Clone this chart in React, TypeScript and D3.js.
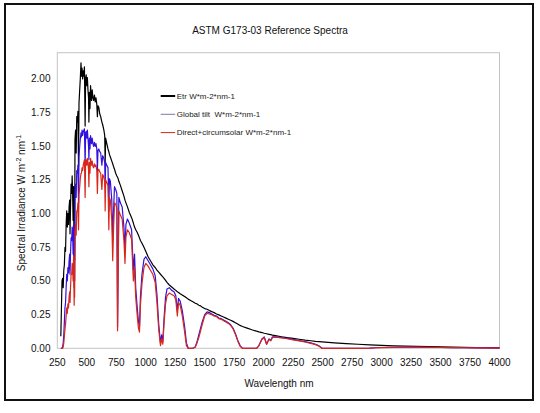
import React from "react";
import { scaleLinear, line } from "d3";

// wavelength grid (nm), shared by the three series
const wavelengths = [
  280, 285, 290, 295, 300, 305, 310, 315, 320, 325, 330, 335, 340, 345, 350, 355, 358, 362, 367, 372,
  376, 380, 384, 388, 393, 396, 397, 400, 405, 410, 415, 420, 425, 430, 434, 440, 445, 451, 455, 460,
  465, 470, 475, 480, 486, 490, 495, 500, 505, 510, 515, 518, 522, 527, 532, 540, 546, 552, 558, 565,
  572, 578, 585, 590, 595, 602, 610, 618, 628, 635, 645, 652, 656, 660, 670, 680, 687, 692, 700, 712,
  720, 727, 735, 745, 755, 761, 766, 772, 785, 800, 815, 824, 832, 845, 860, 880, 895, 905, 915, 928,
  938, 947, 955, 968, 985, 1000, 1020, 1040, 1060, 1080, 1095, 1110, 1125, 1135, 1145, 1155, 1168, 1180, 1200, 1220,
  1240, 1255, 1268, 1278, 1292, 1310, 1330, 1345, 1360, 1380, 1400, 1420, 1435, 1450, 1465, 1480, 1500, 1520, 1540, 1560,
  1580, 1600, 1620, 1640, 1660, 1680, 1700, 1720, 1740, 1760, 1780, 1800, 1820, 1860, 1900, 1940, 1960, 1985, 2005, 2025,
  2045, 2060, 2075, 2100, 2150, 2200, 2250, 2300, 2350, 2400, 2440, 2470, 2495, 2600, 2700, 2800, 2900, 2950, 3000, 3100,
  3200, 3300, 3400, 3500, 3600, 3700, 3800, 3900, 4000,
];

const etr = [
  0.09, 0.3, 0.5, 0.52, 0.45, 0.58, 0.62, 0.75, 0.72, 0.92, 1.02, 0.9, 1.0, 0.92, 1.05, 1.1, 0.85, 1.05, 1.22, 1.15,
  1.28, 1.15, 0.95, 1.2, 0.55, 1.0, 0.65, 1.55, 1.62, 1.45, 1.72, 1.68, 1.76, 1.35, 1.82, 1.92, 2.0, 2.12, 2.02, 2.08,
  2.0, 2.06, 2.02, 2.09, 1.65, 2.0, 2.03, 1.95, 2.01, 1.92, 1.86, 1.68, 1.9, 1.78, 1.95, 1.84, 1.92, 1.86, 1.84, 1.88,
  1.83, 1.86, 1.81, 1.72, 1.8, 1.79, 1.74, 1.72, 1.68, 1.66, 1.62, 1.58, 1.38, 1.56, 1.52, 1.48, 1.46, 1.44, 1.42, 1.39,
  1.37, 1.35, 1.33, 1.3, 1.28, 1.27, 1.26, 1.24, 1.21, 1.17, 1.13, 1.1, 1.08, 1.05, 1.01, 0.97, 0.93, 0.9, 0.88, 0.86,
  0.84, 0.82, 0.8, 0.78, 0.75, 0.72, 0.68, 0.65, 0.62, 0.6, 0.58, 0.565, 0.55, 0.54, 0.53, 0.52, 0.505, 0.49, 0.47, 0.455,
  0.44, 0.43, 0.42, 0.415, 0.405, 0.395, 0.385, 0.375, 0.365, 0.355, 0.345, 0.335, 0.33, 0.32, 0.315, 0.305, 0.295, 0.29, 0.28, 0.272,
  0.265, 0.255, 0.248, 0.24, 0.232, 0.224, 0.216, 0.208, 0.2, 0.19, 0.18, 0.17, 0.162, 0.15, 0.138, 0.127, 0.122, 0.117, 0.112, 0.108,
  0.104, 0.101, 0.098, 0.094, 0.086, 0.079, 0.073, 0.067, 0.061, 0.056, 0.052, 0.05, 0.048, 0.041, 0.035, 0.03, 0.026, 0.024, 0.022, 0.019,
  0.016, 0.014, 0.012, 0.01, 0.008, 0.007, 0.006, 0.005, 0.004,
];

const globalTilt = [
  0, 0, 0, 0.01, 0.04, 0.1, 0.2, 0.3, 0.34, 0.45, 0.55, 0.5, 0.6, 0.56, 0.65, 0.7, 0.55, 0.7, 0.82, 0.8,
  0.9, 0.85, 0.7, 0.92, 0.45, 0.78, 0.5, 1.15, 1.22, 1.12, 1.32, 1.3, 1.36, 1.08, 1.42, 1.5, 1.55, 1.6, 1.57, 1.62,
  1.58, 1.61, 1.62, 1.63, 1.35, 1.6, 1.61, 1.56, 1.62, 1.56, 1.5, 1.4, 1.56, 1.48, 1.58, 1.52, 1.56, 1.52, 1.5, 1.53,
  1.5, 1.52, 1.48, 1.32, 1.47, 1.48, 1.46, 1.45, 1.36, 1.43, 1.41, 1.38, 1.2, 1.38, 1.36, 1.34, 1.02, 1.26, 1.24, 1.1,
  0.8, 1.02, 1.2, 1.18, 1.15, 0.16, 0.65, 1.12, 1.08, 1.05, 0.9, 0.72, 0.92, 0.96, 0.93, 0.88, 0.58, 0.7, 0.45, 0.3,
  0.2, 0.16, 0.38, 0.55, 0.66, 0.68, 0.65, 0.62, 0.59, 0.54, 0.4, 0.18, 0.04, 0.1, 0.05, 0.22, 0.38, 0.44, 0.45, 0.43,
  0.42, 0.39, 0.28, 0.37, 0.35, 0.28, 0.16, 0.04, 0, 0, 0, 0.01, 0.05, 0.1, 0.15, 0.2, 0.25, 0.27, 0.265, 0.255,
  0.245, 0.24, 0.225, 0.22, 0.21, 0.2, 0.19, 0.175, 0.15, 0.11, 0.06, 0.02, 0, 0, 0, 0, 0.02, 0.07, 0.085, 0.03,
  0.07, 0.06, 0.085, 0.085, 0.08, 0.074, 0.066, 0.058, 0.05, 0.04, 0.03, 0.018, 0, 0, 0, 0, 0.001, 0.004, 0.006, 0.008,
  0.009, 0.008, 0.007, 0.006, 0.005, 0.004, 0.003, 0.003, 0.002,
];

const directCircumsolar = [
  0, 0, 0, 0, 0.01, 0.04, 0.09, 0.14, 0.18, 0.24, 0.3, 0.26, 0.33, 0.3, 0.38, 0.42, 0.34, 0.45, 0.55, 0.55,
  0.63, 0.6, 0.5, 0.68, 0.32, 0.58, 0.38, 0.85, 0.92, 0.84, 1.02, 1.02, 1.08, 0.88, 1.14, 1.2, 1.26, 1.3, 1.3, 1.34,
  1.32, 1.36, 1.38, 1.4, 1.12, 1.38, 1.4, 1.36, 1.41, 1.38, 1.32, 1.2, 1.38, 1.3, 1.41, 1.36, 1.39, 1.35, 1.34, 1.37,
  1.35, 1.36, 1.32, 1.15, 1.32, 1.33, 1.31, 1.3, 1.18, 1.29, 1.27, 1.24, 1.02, 1.25, 1.23, 1.21, 0.88, 1.12, 1.1, 0.95,
  0.65, 0.88, 1.08, 1.07, 1.04, 0.13, 0.55, 1.02, 0.99, 0.96, 0.8, 0.63, 0.83, 0.88, 0.86, 0.81, 0.5, 0.6, 0.38, 0.24,
  0.15, 0.12, 0.32, 0.48, 0.6, 0.63, 0.61, 0.58, 0.55, 0.49, 0.34, 0.14, 0.02, 0.07, 0.03, 0.18, 0.33, 0.39, 0.41, 0.4,
  0.39, 0.36, 0.24, 0.34, 0.32, 0.24, 0.12, 0.02, 0, 0, 0, 0.01, 0.04, 0.08, 0.13, 0.18, 0.24, 0.26, 0.255, 0.25,
  0.24, 0.235, 0.22, 0.215, 0.205, 0.195, 0.185, 0.17, 0.145, 0.105, 0.055, 0.015, 0, 0, 0, 0, 0.02, 0.065, 0.08, 0.03,
  0.065, 0.055, 0.08, 0.082, 0.077, 0.071, 0.063, 0.055, 0.047, 0.037, 0.027, 0.015, 0, 0, 0, 0, 0.001, 0.004, 0.005, 0.007,
  0.008, 0.008, 0.007, 0.006, 0.005, 0.004, 0.003, 0.003, 0.002,
];

const xTicks = [250, 500, 750, 1000, 1250, 1500, 1750, 2000, 2250, 2500, 2750, 3000, 3250, 3500, 3750, 4000];
const yTicks = [0, 0.25, 0.5, 0.75, 1.0, 1.25, 1.5, 1.75, 2.0];

const seriesNames = ["Etr W*m-2*nm-1", "Global tilt\u00a0\u00a0W*m-2*nm-1", "Direct+circumsolar W*m-2*nm-1"];

const W = 540;
const H = 413;
const plot = { left: 57.3, right: 499.5, top: 52.7, bottom: 348.3 };
const font = "'Liberation Sans', Arial, sans-serif";

export default function App() {
  const x = scaleLinear().domain([250, 4000]).range([plot.left, plot.right]);
  const y = scaleLinear().domain([0, 2.195]).range([plot.bottom, plot.top]);

  const path = (vals: number[]) =>
    line<number>()
      .x((_, i) => x(wavelengths[i]))
      .y((d) => y(d))(vals) as string;

  const series = [
    { vals: etr, color: "#000000", legendWidth: 2 },
    { vals: globalTilt, color: "#3311dd", legendWidth: 1 },
    { vals: directCircumsolar, color: "#d8261a", legendWidth: 1 },
  ];

  return (
    <svg width={W} height={H} style={{ position: "absolute", left: 0, top: 0, background: "#fff" }}>
      <rect x={0} y={0} width={W} height={H} fill="#fff" />
      <rect x={5} y={4} width={528} height={396} fill="#fff" stroke="#111" strokeWidth={2} />

      <text x={270} y={34} textAnchor="middle" fontFamily={font} fontSize={10} fill="#111">
        ASTM G173-03 Reference Spectra
      </text>

      <rect
        x={plot.left}
        y={plot.top}
        width={plot.right - plot.left}
        height={plot.bottom - plot.top}
        fill="#fff"
        stroke="#c4c4c4"
        strokeWidth={1}
      />

      {series.map((s, i) => (
        <path key={i} d={path(s.vals)} fill="none" stroke={s.color} strokeWidth={1.2} strokeLinejoin="round" />
      ))}

      {yTicks.map((t) => (
        <text key={t} x={50.5} y={y(t) + 3.5} textAnchor="end" fontFamily={font} fontSize={10} fill="#111">
          {t.toFixed(2)}
        </text>
      ))}

      {xTicks.map((t) => (
        <text key={t} x={x(t)} y={366} textAnchor="middle" fontFamily={font} fontSize={10} fill="#111">
          {t}
        </text>
      ))}

      <text x={279} y={386.5} textAnchor="middle" fontFamily={font} fontSize={10} fill="#111">
        Wavelength nm
      </text>

      <text
        transform="translate(25,203) rotate(-90)"
        textAnchor="middle"
        fontFamily={font}
        fontSize={10}
        fill="#111"
      >
        Spectral Irradiance  W m
        <tspan dy={-4} fontSize={7}>-2</tspan>
        <tspan dy={4}> nm</tspan>
        <tspan dy={-4} fontSize={7}>-1</tspan>
      </text>

      {series.map((s, i) => (
        <g key={i} transform={`translate(160.7,${96 + i * 18.3})`}>
          <line x1={0} x2={14.5} y1={0} y2={0} stroke={i === 1 ? "#7a78a8" : s.color} strokeWidth={s.legendWidth} />
          <text x={16} y={2.8} fontFamily={font} fontSize={8} fill="#222">
            {seriesNames[i]}
          </text>
        </g>
      ))}
    </svg>
  );
}
